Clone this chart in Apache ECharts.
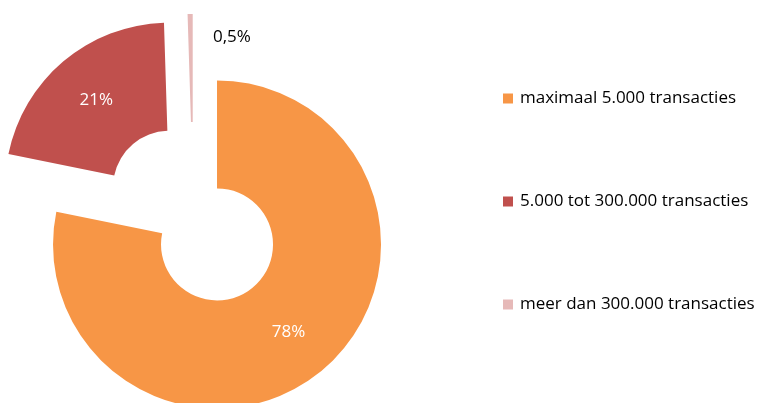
<!DOCTYPE html>
<html>
<head>
<meta charset="utf-8">
<script src="https://cdn.jsdelivr.net/npm/echarts@6/dist/echarts.min.js"></script>
<style>
html,body{margin:0;padding:0;background:#fff;}
#chart{width:769px;height:403px;}
</style>
</head>
<body>
<div id="chart"></div>
<script>
const categories = ['maximaal 5.000 transacties', '5.000 tot 300.000 transacties', 'meer dan 300.000 transacties'];
const values = [78.2, 21.3, 0.5];
const colors = ['#F79646', '#C0504D', '#E6B9B8'];

function fmtPct(p) {
  if (p < 1) return p.toFixed(1).replace('.', ',') + '%';
  return Math.round(p) + '%';
}

const data = categories.map((name, i) => {
  const item = {
    name: name,
    value: values[i],
    selected: true,
    itemStyle: { color: colors[i] }
  };
  if (values[i] < 1) {
    item.label = { color: '#000000' };
  }
  return item;
});

const chart = echarts.init(document.getElementById('chart'), null, { renderer: 'canvas' });
chart.setOption({
  animation: false,
  backgroundColor: '#ffffff',
  legend: {
    orient: 'vertical',
    left: 498,
    top: 85,
    itemWidth: 10,
    itemHeight: 10,
    itemGap: 86,
    icon: 'rect',
    selectedMode: false,
    textStyle: {
      fontFamily: 'Open Sans',
      fontSize: 17,
      lineHeight: 17,
      color: '#000000',
      padding: [0, 0, 0, 2]
    },
    data: categories
  },
  series: [{
    type: 'pie',
    center: [193.3, 215.4],
    radius: [56, 164],
    startAngle: 90,
    clockwise: true,
    selectedMode: 'multiple',
    selectedOffset: 37.5,
    avoidLabelOverlap: false,
    itemStyle: { borderWidth: 0 },
    emphasis: { disabled: true, scale: false },
    select: { itemStyle: { borderWidth: 0 } },
    label: {
      show: true,
      position: 'inside',
      fontFamily: 'Open Sans',
      fontSize: 17,
      color: '#ffffff',
      formatter: p => fmtPct(p.percent)
    },
    labelLine: { show: false },
    labelLayout: function (params) {
      if (values[params.dataIndex] < 1) {
        return { dx: 41, dy: -28 };
      }
      return {};
    },
    data: data
  }]
});
</script>
</body>
</html>
